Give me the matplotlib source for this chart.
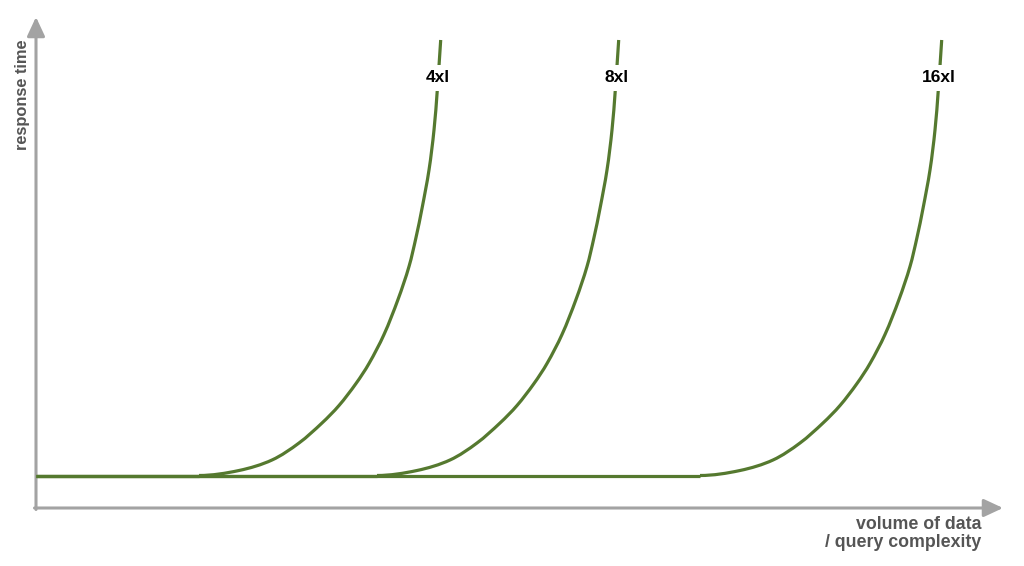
import numpy as np
import matplotlib
matplotlib.use("Agg")
import matplotlib.pyplot as plt
from matplotlib.path import Path
from matplotlib.patches import PathPatch

# instance sizes and where each curve leaves the flat baseline (volume units)
sizes = ["4xl", "8xl", "16xl"]
knee_starts = [163, 341, 664]

# shared shape of the response-time curve after the knee
shape_dx = [0, 40, 73, 100, 123, 140, 157, 170, 185, 199, 210, 217, 223, 230, 235, 238.3, 241.7]
shape_rise = [0, 5, 15.5, 32.5, 52.5, 70, 92, 112, 141, 176, 209, 238, 267,
              305.5, 345.5, 385.5, 435.5]
baseline = 32.5
label_height = 430

green = "#55792f"
axis_grey = "#a3a3a3"
text_grey = "#555555"
font = ["Liberation Sans", "DejaVu Sans"]


def smooth_path(pts):
    """Bezier path passing through every point, horizontal at the start."""
    pts = np.asarray(pts, dtype=float)
    n = len(pts)
    tang = np.zeros_like(pts)
    tang[0] = [1, 0]
    for i in range(1, n - 1):
        tang[i] = pts[i + 1] - pts[i - 1]
    tang[-1] = pts[-1] - pts[-2]
    tang /= np.linalg.norm(tang, axis=1)[:, None]
    verts = [pts[0]]
    codes = [Path.MOVETO]
    for i in range(n - 1):
        seg = np.linalg.norm(pts[i + 1] - pts[i]) / 3
        verts += [pts[i] + tang[i] * seg, pts[i + 1] - tang[i + 1] * seg, pts[i + 1]]
        codes += [Path.CURVE4] * 3
    return Path(verts, codes)


fig = plt.figure(figsize=(10.24, 5.66), dpi=100)
ax = fig.add_axes([0, 0, 1, 1])
ax.set_xlim(-36, 988)
ax.set_ylim(-58, 508)
ax.axis("off")

# axes with arrow heads
arrow = dict(arrowstyle="-|>,head_length=0.58,head_width=0.27", color=axis_grey,
             lw=2.2, mutation_scale=20, shrinkA=0, shrinkB=0)
ax.annotate("", xy=(0, 491), xytext=(0, -1.5), arrowprops=arrow)
ax.annotate("", xy=(967, 0), xytext=(-1.5, 0), arrowprops=arrow)

dx = np.array(shape_dx)
rise = np.array(shape_rise)
for name, start in zip(sizes, knee_starts):
    ax.plot([0, start], [baseline, baseline], color=green, lw=2.3,
            solid_capstyle="butt", zorder=3)
    pts = np.column_stack([start + dx, baseline + rise])
    ax.add_patch(PathPatch(smooth_path(pts), fill=False, edgecolor=green, lw=2.3,
                           capstyle="butt", zorder=3))
    lx = start + np.interp(label_height - baseline, rise, dx)
    ax.text(lx, label_height, name, ha="center", va="center", fontsize=12.5,
            fontweight="bold", family=font, color="black",
            bbox=dict(facecolor="white", edgecolor="none", pad=4), zorder=4)

ax.text(-13.5, 413, "response time", rotation=90, ha="center", va="center", fontsize=11.8,
        fontweight="bold", family=font, color=text_grey)
ax.text(945, -21, "volume of data", ha="right", va="baseline",
        fontsize=12.8, fontweight="bold", family=font, color=text_grey)
ax.text(945, -39, "/ query complexity", ha="right", va="baseline",
        fontsize=12.8, fontweight="bold", family=font, color=text_grey)

fig.savefig("out.png", dpi=100)
